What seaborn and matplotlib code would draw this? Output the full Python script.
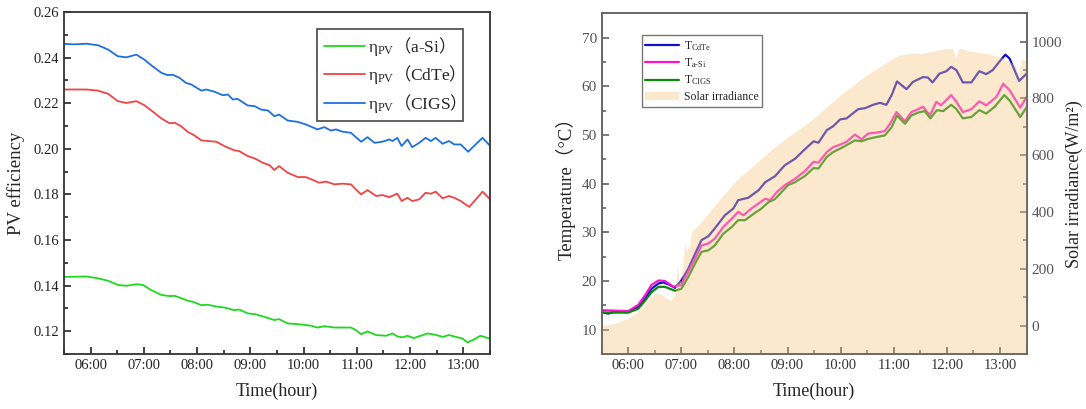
import numpy as np
import pandas as pd
import matplotlib
matplotlib.use("Agg")
import matplotlib.pyplot as plt
from matplotlib.ticker import MultipleLocator, FuncFormatter
import seaborn as sns

# ---- left panel: PV efficiency (time in decimal hours) ----
t_cigs = [5.5, 5.7, 5.92, 6.14, 6.33, 6.51, 6.67, 6.86, 7.01, 7.14, 7.33, 7.45, 7.54, 7.67, 7.79, 7.89,
          8.08, 8.17, 8.33, 8.48, 8.58, 8.67, 8.76, 8.95, 9.08, 9.2, 9.33, 9.45, 9.54, 9.7, 9.89,
          10.04, 10.26, 10.39, 10.51, 10.61, 10.73, 10.89, 10.98, 11.08, 11.2, 11.33, 11.48, 11.61,
          11.67, 11.76, 11.84, 11.95, 12.04, 12.17, 12.29, 12.39, 12.48, 12.61, 12.73, 12.83, 12.95,
          13.09, 13.26, 13.36, 13.5]
eta_cigs = [0.2460, 0.2458, 0.2461, 0.2454, 0.2435, 0.2406, 0.2401, 0.2413, 0.2391, 0.2366, 0.2333,
            0.2323, 0.2325, 0.2311, 0.2289, 0.2282, 0.2255, 0.2260, 0.2250, 0.2235, 0.2238, 0.2216,
            0.2219, 0.2190, 0.2187, 0.2172, 0.2168, 0.2143, 0.2150, 0.2124, 0.2118, 0.2107, 0.2085,
            0.2095, 0.2080, 0.2085, 0.2075, 0.2070, 0.2051, 0.2031, 0.2051, 0.2026, 0.2031, 0.2041,
            0.2034, 0.2048, 0.2012, 0.2041, 0.2007, 0.2026, 0.2048, 0.2034, 0.2048, 0.2022, 0.2034,
            0.2019, 0.2019, 0.1987, 0.2026, 0.2048, 0.2013]

t_cdte = [5.5, 5.92, 6.14, 6.33, 6.51, 6.67, 6.86, 7.01, 7.14, 7.33, 7.48, 7.58, 7.7, 7.83, 7.92,
          8.08, 8.2, 8.36, 8.51, 8.7, 8.79, 8.95, 9.08, 9.23, 9.36, 9.45, 9.54, 9.7, 9.89, 10.04,
          10.2, 10.29, 10.42, 10.58, 10.73, 10.89, 10.98, 11.08, 11.2, 11.36, 11.48, 11.61, 11.76,
          11.84, 11.95, 12.04, 12.17, 12.29, 12.39, 12.48, 12.61, 12.73, 12.83, 12.95, 13.11, 13.26,
          13.36, 13.5]
eta_cdte = [0.2260, 0.2260, 0.2255, 0.2241, 0.2209, 0.2201, 0.2209, 0.2191, 0.2168, 0.2133, 0.2112,
            0.2114, 0.2099, 0.2073, 0.2063, 0.2037, 0.2034, 0.2031, 0.2012, 0.1993, 0.1990, 0.1968,
            0.1958, 0.1939, 0.1928, 0.1907, 0.1924, 0.1895, 0.1876, 0.1876, 0.1861, 0.1851, 0.1856,
            0.1844, 0.1847, 0.1844, 0.1822, 0.1800, 0.1819, 0.1793, 0.1797, 0.1788, 0.1803, 0.1771,
            0.1785, 0.1771, 0.1778, 0.1807, 0.1803, 0.1812, 0.1783, 0.1793, 0.1785, 0.1771, 0.1745,
            0.1785, 0.1812, 0.1779]

t_asi = [5.5, 5.92, 6.14, 6.33, 6.51, 6.67, 6.86, 6.98, 7.14, 7.33, 7.48, 7.58, 7.7, 7.83, 7.92,
         8.08, 8.2, 8.39, 8.51, 8.7, 8.79, 8.95, 9.08, 9.26, 9.45, 9.54, 9.7, 9.89, 10.14, 10.26,
         10.39, 10.58, 10.89, 10.98, 11.08, 11.2, 11.36, 11.55, 11.67, 11.76, 11.86, 11.95, 12.07,
         12.2, 12.33, 12.48, 12.61, 12.73, 12.86, 12.98, 13.08, 13.21, 13.32, 13.5]
eta_asi = [0.1438, 0.1440, 0.1432, 0.1421, 0.1403, 0.1399, 0.1406, 0.1403, 0.1380, 0.1359, 0.1354,
           0.1355, 0.1345, 0.1333, 0.1329, 0.1314, 0.1316, 0.1307, 0.1304, 0.1292, 0.1295, 0.1278,
           0.1275, 0.1263, 0.1249, 0.1253, 0.1234, 0.1231, 0.1224, 0.1216, 0.1222, 0.1216, 0.1216,
           0.1205, 0.1187, 0.1199, 0.1183, 0.1180, 0.1190, 0.1177, 0.1173, 0.1180, 0.1170, 0.1180,
           0.1190, 0.1184, 0.1175, 0.1183, 0.1175, 0.1168, 0.1151, 0.1165, 0.1180, 0.1167]

# ---- right panel: module temperature and solar irradiance ----
t_T_cdte = [5.5, 5.62, 5.75, 6.0, 6.19, 6.32, 6.44, 6.57, 6.66, 6.76, 6.88, 7.0, 7.13, 7.26, 7.38,
            7.51, 7.63, 7.82, 7.98, 8.07, 8.26, 8.45, 8.58, 8.76, 8.95, 9.14, 9.33, 9.49, 9.58,
            9.74, 9.86, 9.99, 10.11, 10.33, 10.46, 10.61, 10.74, 10.86, 10.96, 11.06, 11.14, 11.24,
            11.36, 11.55, 11.64, 11.73, 11.86, 11.99, 12.08, 12.18, 12.3, 12.46, 12.61, 12.74,
            12.86, 12.99, 13.1, 13.18, 13.36, 13.5]
T_cdte = [13.6, 13.3, 13.7, 13.6, 14.7, 16.4, 18.4, 19.5, 19.7, 19.3, 18.6, 20.1, 22.5, 25.6, 28.4,
          29.2, 30.8, 33.5, 34.9, 36.6, 37.1, 38.6, 40.3, 41.5, 43.8, 45.1, 47.1, 48.7, 48.4, 51.0,
          51.8, 53.2, 53.4, 55.3, 55.5, 56.2, 56.6, 56.2, 58.2, 61.0, 60.3, 59.4, 60.9, 61.9, 61.8,
          60.8, 62.6, 63.1, 64.0, 63.3, 60.8, 60.8, 63.1, 62.5, 63.3, 65.1, 66.5, 65.7, 61.1, 62.6]

t_T_asi = [5.5, 6.0, 6.19, 6.32, 6.44, 6.57, 6.69, 6.85, 7.0, 7.13, 7.26, 7.38, 7.51, 7.63, 7.79,
           7.95, 8.07, 8.17, 8.32, 8.45, 8.58, 8.67, 8.8, 8.95, 9.14, 9.33, 9.49, 9.58, 9.74, 9.86,
           9.99, 10.11, 10.27, 10.39, 10.52, 10.68, 10.83, 10.93, 11.05, 11.21, 11.33, 11.46, 11.55,
           11.68, 11.8, 11.89, 12.08, 12.18, 12.3, 12.46, 12.61, 12.74, 12.93, 13.06, 13.18, 13.38,
           13.5]
T_asi = [14.0, 13.8, 15.1, 17.1, 19.2, 20.1, 20.0, 18.8, 19.2, 21.9, 24.6, 27.3, 27.7, 28.7, 31.1,
         32.8, 34.2, 33.5, 34.9, 35.9, 36.9, 36.6, 38.3, 39.7, 41.0, 42.6, 44.5, 44.3, 46.5, 47.5,
         48.0, 48.6, 50.1, 49.1, 50.3, 50.5, 50.8, 52.3, 54.7, 52.8, 54.7, 55.3, 55.8, 54.0, 56.8,
         56.1, 58.2, 56.8, 54.7, 55.3, 56.9, 56.1, 57.8, 60.5, 59.2, 55.6, 57.8]

t_T_cigs = [5.5, 6.0, 6.19, 6.32, 6.44, 6.57, 6.69, 6.88, 7.0, 7.13, 7.26, 7.38, 7.51, 7.63, 7.79,
            7.95, 8.07, 8.2, 8.36, 8.51, 8.64, 8.76, 8.89, 9.01, 9.14, 9.33, 9.49, 9.58, 9.74, 9.86,
            9.99, 10.11, 10.27, 10.39, 10.52, 10.68, 10.83, 10.96, 11.06, 11.21, 11.33, 11.46,
            11.58, 11.69, 11.81, 11.93, 12.08, 12.18, 12.3, 12.46, 12.61, 12.74, 12.9, 13.08, 13.18,
            13.38, 13.5]
T_cigs = [13.5, 13.5, 14.3, 16.0, 17.7, 18.8, 18.8, 18.0, 18.4, 20.8, 23.6, 26.0, 26.3, 27.3, 29.7,
          31.1, 32.5, 32.5, 33.8, 34.9, 36.2, 36.8, 38.3, 39.7, 40.3, 41.6, 43.2, 43.1, 45.5, 46.5,
          47.2, 47.9, 48.9, 48.7, 49.2, 49.6, 49.9, 51.6, 54.0, 52.3, 54.0, 54.6, 54.9, 53.4, 55.1,
          54.9, 56.2, 55.3, 53.4, 53.7, 55.1, 54.4, 55.8, 58.2, 57.1, 53.7, 55.7]

t_irr = [5.5, 5.75, 6.0, 6.19, 6.38, 6.5, 6.63, 6.72, 6.8, 6.88, 6.92, 6.95, 7.0, 7.04, 7.07, 7.1,
         7.16, 7.19, 7.32, 7.51, 7.69, 7.88, 8.07, 8.26, 8.51, 8.76, 9.01, 9.24, 9.49, 9.74, 9.99,
         10.24, 10.49, 10.74, 10.99, 11.11, 11.3, 11.55, 11.74, 11.93, 12.11, 12.16, 12.23, 12.49,
         12.74, 12.99, 13.18, 13.3, 13.35, 13.4, 13.5]
irradiance = [0, 8, 26, 49, 90, 114, 108, 96, 88, 108, 214, 167, 150, 237, 296, 261, 284, 331, 354,
              396, 437, 478, 519, 548, 589, 630, 665, 695, 730, 771, 812, 847, 883, 912, 941, 953,
              959, 959, 967, 974, 977, 941, 977, 965, 959, 947, 930, 915, 871, 941, 930]

sns.set_theme(style="ticks")
plt.rcParams['font.family'] = ['Liberation Serif', 'Noto Sans CJK SC']
# math letters upright serif; fullwidth brackets go through \mathsf -> CJK font
plt.rcParams['mathtext.fontset'] = 'custom'
plt.rcParams['mathtext.it'] = 'Liberation Serif'
plt.rcParams['mathtext.rm'] = 'Liberation Serif'
plt.rcParams['mathtext.sf'] = 'Noto Sans CJK SC'

hour_fmt = FuncFormatter(lambda v, p: f"{int(round(v)):02d}:00")

fig = plt.figure(figsize=(10.86, 4.09), dpi=100)

# ---------- left: efficiency ----------
ax1 = fig.add_axes([0.0589, 0.1345, 0.3923, 0.8362])
sns.lineplot(x=t_asi, y=eta_asi, ax=ax1, color='#1fd81f', lw=1.3,
             label=r'$η_{PV}\mathsf{（}a$-$Si\mathsf{）}$')
sns.lineplot(x=t_cdte, y=eta_cdte, ax=ax1, color='#f04444', lw=1.3,
             label=r'$η_{PV}\mathsf{（}CdTe\mathsf{）}$')
sns.lineplot(x=t_cigs, y=eta_cigs, ax=ax1, color='#1e6fe0', lw=1.3,
             label=r'$η_{PV}\mathsf{（}CIGS\mathsf{）}$')
ax1.set_xlim(5.5, 13.5)
ax1.set_ylim(0.11, 0.26)
ax1.xaxis.set_major_locator(MultipleLocator(1))
ax1.xaxis.set_minor_locator(MultipleLocator(0.5))
ax1.xaxis.set_major_formatter(hour_fmt)
ax1.yaxis.set_major_locator(MultipleLocator(0.02))
ax1.yaxis.set_minor_locator(MultipleLocator(0.01))
ax1.yaxis.set_major_formatter(FuncFormatter(lambda v, p: f"{v:.2f}"))
ax1.tick_params(which='both', direction='in', labelsize=10.5, colors='#222222', width=1.2)
ax1.tick_params(which='major', length=5)
ax1.tick_params(which='minor', length=3)
for s in ax1.spines.values():
    s.set_color('#333333')
    s.set_linewidth(1.3)
ax1.set_xlabel('Time(hour)', fontsize=13, labelpad=8)
ax1.set_ylabel('PV efficiency', fontsize=13.5, labelpad=6)
leg1 = ax1.legend(loc='upper right', bbox_to_anchor=(0.937, 0.95), borderaxespad=0,
                  fontsize=12.5, handlelength=2.4, fancybox=False, edgecolor='#555555',
                  framealpha=1, labelspacing=0.3, borderpad=0.35, handletextpad=0.15)
leg1.get_frame().set_linewidth(1.3)

# ---------- right: temperature + irradiance ----------
ax = fig.add_axes([0.554, 0.1345, 0.3913, 0.833])
ax2 = ax.twinx()
sns.lineplot(x=t_T_cdte, y=T_cdte, ax=ax, color='#1010c8', lw=1.6, label=r'$T_{CdTe}$')
sns.lineplot(x=t_T_asi, y=T_asi, ax=ax, color='#ff10d0', lw=1.6, label='$T_{a‐Si}$')
sns.lineplot(x=t_T_cigs, y=T_cigs, ax=ax, color='#0a8a0a', lw=1.6, label=r'$T_{CIGS}$')
ax.get_legend().remove()
ax.set_xlim(5.5, 13.5)
ax.set_ylim(5, 75)
ax2.set_ylim(-100, 1100)
ax2.fill_between(t_irr, irradiance, ax2.get_ylim()[0], color='#f9c784', alpha=0.4, lw=0,
                 label='Solar irradiance')
ax.xaxis.set_major_locator(MultipleLocator(1))
ax.xaxis.set_minor_locator(MultipleLocator(0.5))
ax.xaxis.set_major_formatter(hour_fmt)
ax.yaxis.set_major_locator(MultipleLocator(10))
ax.yaxis.set_minor_locator(MultipleLocator(5))
ax2.yaxis.set_major_locator(MultipleLocator(200))
ax2.yaxis.set_minor_locator(MultipleLocator(100))
for a in (ax, ax2):
    a.tick_params(which='both', direction='in', labelsize=11, colors='#555555', width=1.1)
    a.tick_params(which='major', length=5)
    a.tick_params(which='minor', length=3)
    for s in a.spines.values():
        s.set_color('#666666')
        s.set_linewidth(1.2)
ax.tick_params(axis='x', colors='#333333', labelsize=10.5)
ax.set_xlabel('Time(hour)', fontsize=13, labelpad=8)
ax.set_ylabel('Temperature（°C）', fontsize=13.5, labelpad=4)
ax2.set_ylabel('Solar irradiance(W/m²)', fontsize=13, labelpad=3)

h1, l1 = ax.get_legend_handles_labels()
h2, l2 = ax2.get_legend_handles_labels()
leg2 = ax2.legend(h1 + h2, l1 + l2, loc='upper left', bbox_to_anchor=(0.094, 0.935), borderaxespad=0,
                  fontsize=8.5, handlelength=2.9, fancybox=False, edgecolor='#777777', framealpha=1,
                  labelspacing=0.3, borderpad=0.3, handletextpad=0.4)
leg2.get_frame().set_linewidth(1.0)

fig.savefig('out.png', dpi=100)
